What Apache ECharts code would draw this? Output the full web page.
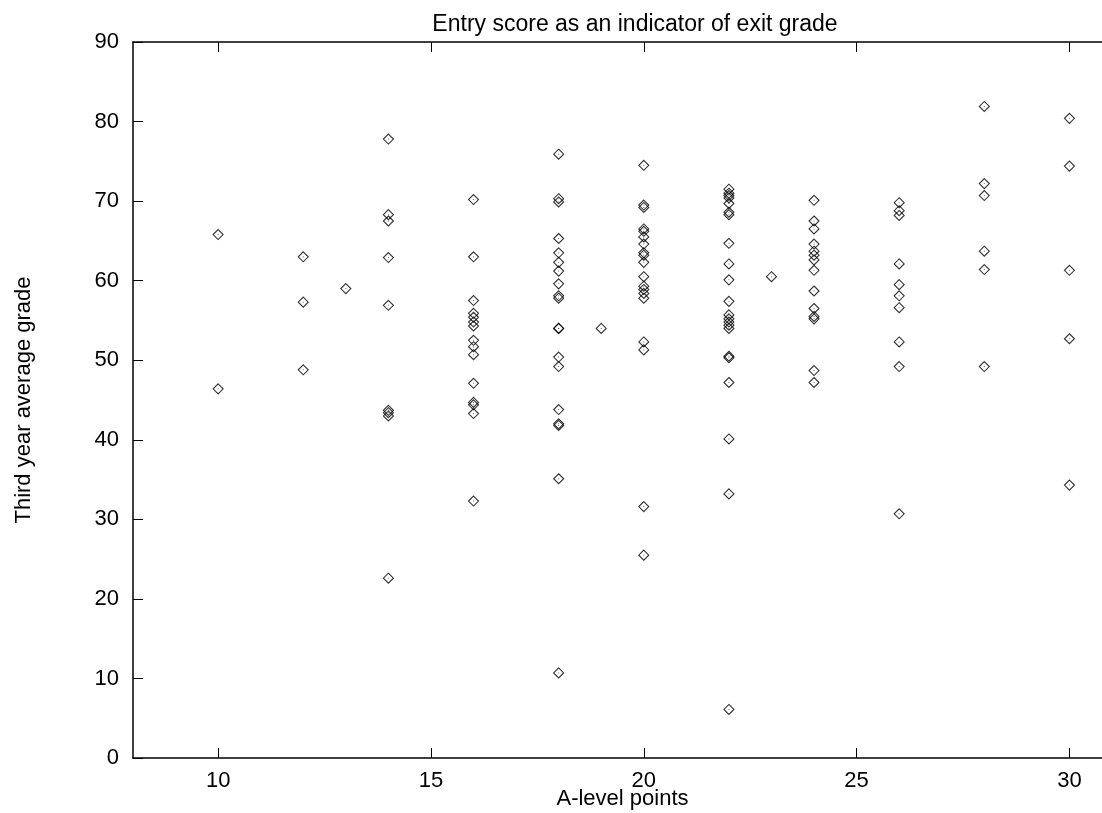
<!DOCTYPE html>
<html>
<head>
<meta charset="utf-8">
<title>Entry score as an indicator of exit grade</title>
<script src="https://cdn.jsdelivr.net/npm/echarts@6/dist/echarts.min.js"></script>
<style>
  html, body { margin: 0; padding: 0; background: #fff; }
  #chart { width: 1102px; height: 813px; }
</style>
</head>
<body>
<div id="chart"></div>
<script>
// A-level points (x) and the third year grades
const aLevels = [10, 12, 13, 14, 16, 18, 19, 20, 22, 23, 24, 26, 28, 30];
const grades10 = [65.8, 46.4];
const grades12 = [63.0, 57.3, 48.8];
const grades13 = [59.0];
const grades14 = [77.8, 68.3, 67.5, 62.9, 56.9, 43.7, 43.4, 43.0, 22.6];
const grades16 = [70.2, 63.0, 57.5, 55.9, 55.4, 54.8, 54.3, 52.5, 51.7, 50.7, 47.1, 44.7, 44.4, 43.3, 32.3];
const grades18 = [75.9, 70.3, 69.9, 65.3, 63.5, 62.3, 61.2, 59.6, 58.1, 57.8, 54.0, 54.0, 50.4, 49.2, 43.8, 42.0, 41.8, 35.1, 10.7];
const grades19 = [54.0];
const grades20 = [74.5, 69.5, 69.2, 66.5, 66.2, 65.5, 64.6, 63.5, 63.2, 62.3, 60.5, 59.3, 58.9, 58.4, 57.8, 52.3, 51.3, 31.6, 25.5];
const grades22 = [71.5, 71.0, 70.7, 70.4, 69.7, 68.6, 68.3, 64.7, 62.1, 60.1, 57.4, 55.7, 55.2, 54.8, 54.4, 54.0, 50.5, 50.3, 47.2, 40.1, 33.2, 6.1];
const grades23 = [60.5];
const grades24 = [70.1, 67.5, 66.5, 64.6, 63.7, 63.2, 62.6, 61.3, 58.7, 56.5, 55.5, 55.2, 48.7, 47.2];
const grades26 = [69.8, 68.8, 68.2, 62.1, 59.5, 58.1, 56.6, 52.3, 49.2, 30.7];
const grades28 = [81.9, 72.2, 70.7, 63.7, 61.4, 49.2];
const grades30 = [80.4, 74.4, 61.3, 52.7, 34.3];

const gradeColumns = [grades10, grades12, grades13, grades14, grades16, grades18, grades19,
  grades20, grades22, grades23, grades24, grades26, grades28, grades30];

const xTicks = [10, 15, 20, 25, 30];

const points = [];
aLevels.forEach((x, i) => {
  gradeColumns[i].forEach(y => points.push([x, y]));
});

const font = "'Liberation Sans', Arial, sans-serif";
const axisLine = { lineStyle: { color: '#000', width: 1.5 } };

const chart = echarts.init(document.getElementById('chart'));
chart.setOption({
  animation: false,
  backgroundColor: '#fff',
  title: {
    text: 'Entry score as an indicator of exit grade',
    left: 630,
    textAlign: 'center',
    top: 8,
    textStyle: { fontFamily: font, fontSize: 23, fontWeight: 'normal', color: '#000' }
  },
  grid: { left: 133, right: -10, top: 42, bottom: 55, containLabel: false, outerBoundsMode: 'none' },
  xAxis: [
    {
      type: 'value',
      position: 'bottom',
      min: 8,
      max: 31,
      name: 'A-level points',
      nameLocation: 'middle',
      nameGap: 30,
      nameMoveOverlap: false,
      nameTextStyle: { fontFamily: font, fontSize: 22, color: '#000' },
      axisLine: axisLine,
      axisTick: { inside: true, length: 10, customValues: xTicks, lineStyle: { color: '#000' } },
      axisLabel: { customValues: xTicks, margin: 12, fontFamily: font, fontSize: 22, color: '#000' },
      splitLine: { show: false }
    },
    {
      type: 'value',
      position: 'top',
      min: 8,
      max: 31,
      axisLine: axisLine,
      axisTick: { inside: true, length: 10, customValues: xTicks, lineStyle: { color: '#000' } },
      axisLabel: { show: false },
      splitLine: { show: false }
    }
  ],
  yAxis: {
    type: 'value',
    min: 0,
    max: 90,
    interval: 10,
    name: 'Third year average grade',
    nameLocation: 'middle',
    nameGap: 98,
    nameMoveOverlap: false,
    nameTextStyle: { fontFamily: font, fontSize: 22, color: '#000' },
    axisLine: { show: true, lineStyle: { color: '#000', width: 1.5 } },
    axisTick: { show: true, inside: true, length: 10, lineStyle: { color: '#000' } },
    axisLabel: { margin: 14, fontFamily: font, fontSize: 22, color: '#000' },
    splitLine: { show: false }
  },
  series: [
    {
      type: 'scatter',
      data: points,
      symbol: 'diamond',
      symbolSize: 10,
      itemStyle: { color: 'rgba(0,0,0,0)', borderColor: '#000', borderWidth: 1.1 }
    },
    {
      type: 'scatter',
      data: points,
      symbol: 'rect',
      symbolSize: 1,
      itemStyle: { color: '#555' }
    }
  ]
});
</script>
</body>
</html>
